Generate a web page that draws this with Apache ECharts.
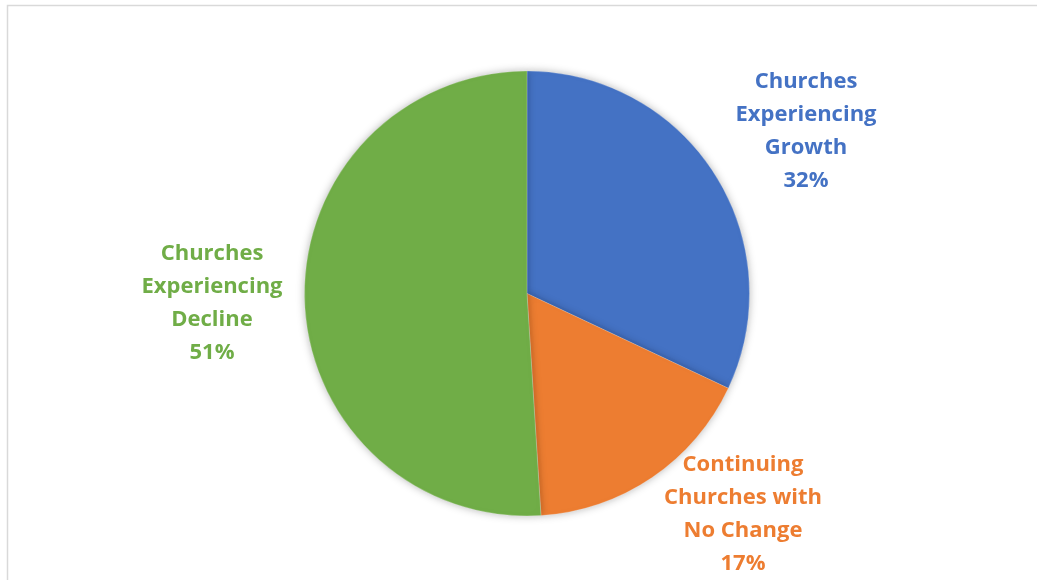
<!DOCTYPE html>
<html>
<head>
<meta charset="utf-8">
<script src="https://cdn.jsdelivr.net/npm/echarts@6/dist/echarts.min.js"></script>
<style>
  html, body { margin: 0; padding: 0; background: #ffffff; }
  #chart { width: 1037px; height: 580px; }
</style>
</head>
<body>
<div id="chart"></div>
<script>
// Church trend shares (percent)
const categories = [
  'Churches\nExperiencing\nGrowth',
  'Continuing\nChurches with\nNo Change',
  'Churches\nExperiencing\nDecline'
];
const values = [32, 17, 51];
const colors = ['#4472C4', '#ED7D31', '#70AD47'];

// Where each slice's label block sits (centre of the text block)
const labelSpots = [
  { x: 806, y: 131 },
  { x: 743, y: 514 },
  { x: 212, y: 303 }
];

const chart = echarts.init(document.getElementById('chart'), null, { renderer: 'canvas' });

chart.setOption({
  backgroundColor: '#ffffff',
  animation: false,
  graphic: [{
    type: 'rect',
    shape: { x: 7.5, y: 5.5, width: 1100, height: 700 },
    style: { fill: 'none', stroke: '#d9d9d9', lineWidth: 1.5 },
    silent: true
  }],
  series: [{
    type: 'pie',
    center: [527, 293.5],
    radius: 222.5,
    startAngle: 90,
    clockwise: true,
    data: categories.map((name, i) => ({
      name: name,
      value: values[i],
      itemStyle: { color: colors[i] },
      label: { color: colors[i] }
    })),
    itemStyle: {
      borderColor: 'rgba(255,255,255,0.35)',
      borderWidth: 0.6,
      shadowBlur: 9,
      shadowColor: 'rgba(0,0,0,0.28)'
    },
    label: {
      show: true,
      position: 'outside',
      formatter: p => p.name + '\n' + p.value + '%',
      fontFamily: 'Open Sans',
      fontWeight: 'bold',
      fontSize: 22,
      lineHeight: 33,
      align: 'center'
    },
    labelLine: { show: false },
    labelLayout: params => {
      const s = labelSpots[params.dataIndex];
      return { x: s.x, y: s.y, align: 'center', verticalAlign: 'middle' };
    },
    emphasis: { disabled: true }
  }]
});
</script>
</body>
</html>
